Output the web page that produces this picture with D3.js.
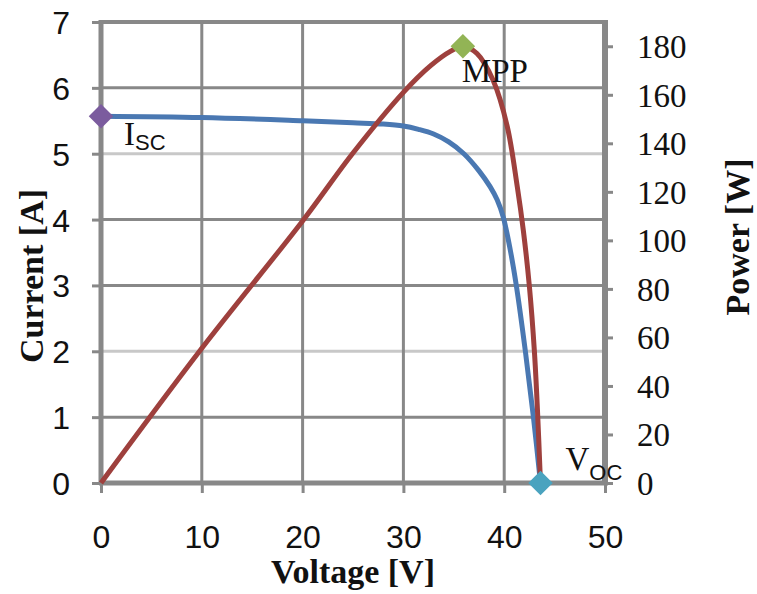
<!DOCTYPE html>
<html><head><meta charset="utf-8">
<script src="https://cdn.jsdelivr.net/npm/d3@7"></script>
<style>body{margin:0;background:#fff}svg{display:block;background:#fff}</style>
</head><body>
<svg id="c" width="757" height="594"></svg>
<script>
// ---- data ----
const voltageI = [0, 10, 20, 25, 28, 30, 31.5, 33, 34.5, 36, 37.5, 38.6, 39.3, 39.9, 40.6, 41.2, 42.1, 42.9, 43.6];
const current  = [5.57, 5.55, 5.50, 5.47, 5.45, 5.42, 5.37, 5.30, 5.18, 5.00, 4.74, 4.50, 4.30, 4.04, 3.54, 3.0, 2.0, 1.0, 0];
const voltageP = [0, 10, 20, 25, 30, 32.7, 34.7, 35.9, 37.3, 38.9, 40.3, 41.3, 41.9, 42.5, 43.0, 43.3, 43.6];
const power    = [0, 55.5, 108, 136, 161, 172, 178, 180, 177, 166, 147, 122, 104, 81, 54, 30, 0];
const voltageTicks = [0, 10, 20, 30, 40, 50];
const currentTicks = [0, 1, 2, 3, 4, 5, 6, 7];
const powerTicks   = [0, 20, 40, 60, 80, 100, 120, 140, 160, 180];
const pointNames   = ["Isc", "MPP", "Voc"];
const pointVoltage = [0, 35.9, 43.6];
const pointValue   = [5.57, 180, 0];
const pointAxis    = ["current", "power", "current"];

// ---- layout ----
const svg = d3.select("#c");
const L = 101, R = 605, T = 22, B = 483;
const x  = d3.scaleLinear().domain([0, 50]).range([L, R]);
const yI = d3.scaleLinear().domain([0, 7]).range([B, T]);
const yP = d3.scaleLinear().domain([0, 190]).range([B, T]);

const dark = "#888888", light = "#c8c8c8";
const serif = "'Liberation Serif','Times New Roman',serif";
const sans  = "'Liberation Sans',Arial,sans-serif";

svg.append("rect").attr("width", 757).attr("height", 594).attr("fill", "#fff");

// gridlines
const grid = svg.append("g");
grid.selectAll("line.h").data(currentTicks.slice(1)).join("line")
  .attr("x1", L).attr("x2", R).attr("y1", d => yI(d)).attr("y2", d => yI(d))
  .attr("stroke", d => (d === 5 || d === 2) ? light : dark)
  .attr("stroke-width", d => d === 7 ? 4 : 3);
grid.selectAll("line.v").data(voltageTicks.slice(1, -1)).join("line")
  .attr("x1", d => x(d)).attr("x2", d => x(d)).attr("y1", T).attr("y2", B)
  .attr("stroke", dark).attr("stroke-width", 3);

// axes
const axL = svg.append("g").attr("transform", `translate(${L},0)`)
  .call(d3.axisLeft(yI).tickValues(currentTicks).tickSize(9).tickPadding(22).tickFormat(d3.format("d")));
const axB = svg.append("g").attr("transform", `translate(0,${B})`)
  .call(d3.axisBottom(x).tickValues(voltageTicks).tickSize(10).tickPadding(10).tickFormat(d3.format("d")));
const axR = svg.append("g").attr("transform", `translate(${R},0)`)
  .call(d3.axisRight(yP).tickValues(powerTicks).tickSize(8).tickPadding(24).tickFormat(d3.format("d")));

[axL, axB, axR].forEach(a => {
  a.select(".domain").remove();
  a.selectAll(".tick line").attr("stroke", dark).attr("stroke-width", 3);
  a.selectAll(".tick text").attr("fill", "#111");
});
axL.selectAll(".tick text").attr("font-family", sans).attr("font-size", 32).attr("dy", "0.36em");
axB.selectAll(".tick text").attr("font-family", sans).attr("font-size", 32).attr("y", 0).attr("dy", 0)
  .attr("transform", "translate(0,65)");
axR.selectAll(".tick text").attr("font-family", serif).attr("font-size", 33).attr("dy", "0.34em");

// axis lines
svg.append("line").attr("x1", L).attr("x2", L).attr("y1", T - 2).attr("y2", B + 2)
  .attr("stroke", dark).attr("stroke-width", 5);
svg.append("line").attr("x1", L - 2).attr("x2", R + 3).attr("y1", B).attr("y2", B)
  .attr("stroke", dark).attr("stroke-width", 5);
svg.append("line").attr("x1", R).attr("x2", R).attr("y1", T - 2).attr("y2", B + 2)
  .attr("stroke", dark).attr("stroke-width", 6);

// curves
const ivData = voltageI.map((v, i) => [v, current[i]]);
const pvData = voltageP.map((v, i) => [v, power[i]]);
svg.append("path").datum(ivData)
  .attr("d", d3.line().x(d => x(d[0])).y(d => yI(d[1])).curve(d3.curveCatmullRom.alpha(0.5)))
  .attr("fill", "none").attr("stroke", "#4a78b2").attr("stroke-width", 5).attr("stroke-linejoin", "round");
svg.append("path").datum(pvData)
  .attr("d", d3.line().x(d => x(d[0])).y(d => yP(d[1])).curve(d3.curveCatmullRom.alpha(0.5)))
  .attr("fill", "none").attr("stroke", "#9e403d").attr("stroke-width", 5).attr("stroke-linejoin", "round");

// markers
const markerColor = { Isc: "#7b5c9e", MPP: "#92b455", Voc: "#4aa3bf" };
const pts = pointNames.map((n, i) => ({
  name: n, px: x(pointVoltage[i]),
  py: pointAxis[i] === "power" ? yP(pointValue[i]) : yI(pointValue[i])
}));
svg.selectAll("path.mk").data(pts).join("path")
  .attr("d", d3.symbol(d3.symbolSquare, 300))
  .attr("transform", d => `translate(${d.px},${d.py}) rotate(45)`)
  .attr("fill", d => markerColor[d.name]);

// labels
function subLabel(p, main, sub, dx, dy, subDy) {
  const t = svg.append("text").attr("x", p.px + dx).attr("y", p.py + dy)
    .attr("font-family", serif).attr("font-size", 33).attr("fill", "#111");
  t.append("tspan").text(main);
  if (sub) t.append("tspan").attr("font-family", sans).attr("font-size", 22).attr("dy", subDy).text(sub);
}
subLabel(pts[0], "I", "SC", 23, 29, 5);
subLabel(pts[1], "MPP", null, -1, 36, 0);
subLabel(pts[2], "V", "OC", 25, -13, 10);

// axis titles
svg.append("text").attr("x", (L + R) / 2).attr("y", 583).attr("text-anchor", "middle")
  .attr("font-family", serif).attr("font-weight", "bold").attr("font-size", 34).attr("fill", "#111")
  .text("Voltage [V]");
svg.append("text").attr("transform", "translate(43,276) rotate(-90)").attr("text-anchor", "middle")
  .attr("font-family", serif).attr("font-weight", "bold").attr("font-size", 34).attr("fill", "#111")
  .text("Current [A]");
svg.append("text").attr("transform", "translate(749,237) rotate(-90)").attr("text-anchor", "middle")
  .attr("font-family", serif).attr("font-weight", "bold").attr("font-size", 34).attr("fill", "#111")
  .text("Power [W]");
</script>
</body></html>
